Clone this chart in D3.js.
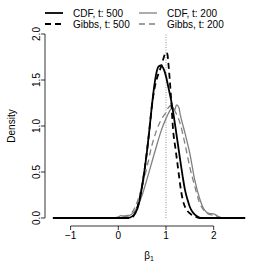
<!DOCTYPE html>
<html>
<head>
<meta charset="utf-8">
<script src="https://cdn.jsdelivr.net/npm/d3@7"></script>
<style>
  body { margin: 0; background: #fff; }
  text { font-family: "Liberation Sans", Arial, sans-serif; }
</style>
</head>
<body>
<div id="vis"></div>
<script>
// density estimates: [beta1, density]
var cdf500 = [[-1.37, 0], [0.2, 0], [0.3, 0.02], [0.4, 0.1], [0.45, 0.2], [0.5, 0.35], [0.55, 0.52],
  [0.6, 0.72], [0.65, 0.95], [0.7, 1.2], [0.75, 1.42], [0.8, 1.58], [0.85, 1.65], [0.9, 1.66],
  [0.95, 1.62], [1.0, 1.54], [1.05, 1.42], [1.1, 1.3], [1.15, 1.15], [1.2, 0.98], [1.25, 0.8],
  [1.3, 0.62], [1.35, 0.45], [1.4, 0.3], [1.45, 0.2], [1.5, 0.12], [1.55, 0.07], [1.6, 0.04],
  [1.65, 0.02], [1.7, 0.005], [1.75, 0], [2.66, 0]];
var gibbs500 = [[-1.37, 0], [0.2, 0], [0.3, 0.01], [0.35, 0.05], [0.4, 0.12], [0.45, 0.22], [0.5, 0.35],
  [0.55, 0.52], [0.6, 0.72], [0.65, 0.95], [0.7, 1.2], [0.75, 1.38], [0.8, 1.5], [0.85, 1.58],
  [0.9, 1.65], [0.95, 1.74], [1.0, 1.8], [1.03, 1.78], [1.05, 1.68], [1.1, 1.35], [1.15, 0.95],
  [1.2, 0.75], [1.25, 0.55], [1.3, 0.35], [1.35, 0.2], [1.4, 0.12], [1.5, 0.05], [1.6, 0.02],
  [1.7, 0], [2.66, 0]];
var cdf200 = [[-1.37, 0], [-0.1, 0], [0.0, 0.01], [0.05, 0.025], [0.1, 0.02], [0.15, 0.015], [0.2, 0.02],
  [0.3, 0.05], [0.4, 0.12], [0.5, 0.25], [0.6, 0.42], [0.7, 0.6], [0.8, 0.78], [0.9, 0.95],
  [1.0, 1.08], [1.1, 1.18], [1.15, 1.2], [1.18, 1.17], [1.22, 1.23], [1.27, 1.2], [1.3, 1.12],
  [1.4, 0.92], [1.5, 0.7], [1.6, 0.42], [1.7, 0.22], [1.8, 0.09], [1.9, 0.05], [2.0, 0.045],
  [2.1, 0.015], [2.2, 0], [2.66, 0]];
var gibbs200 = [[-1.37, 0], [-0.1, 0], [0.0, 0.01], [0.1, 0.02], [0.2, 0.03], [0.3, 0.07], [0.4, 0.18],
  [0.5, 0.35], [0.6, 0.55], [0.7, 0.78], [0.8, 0.95], [0.9, 1.07], [1.0, 1.15], [1.05, 1.2],
  [1.1, 1.22], [1.2, 1.15], [1.3, 1.02], [1.4, 0.8], [1.5, 0.55], [1.6, 0.35], [1.7, 0.17],
  [1.8, 0.08], [1.9, 0.04], [2.0, 0.03], [2.1, 0.01], [2.2, 0], [2.66, 0]];

var trueValue = 1;
var xTicks = [-1, 0, 1, 2];
var yTicks = [0, 0.5, 1, 1.5, 2];
var yTickLabels = ["0.0", "0.5", "1.0", "1.5", "2.0"];

var series = [
  {label: "CDF, t: 500", data: cdf500, color: "#000", width: 1.8, dash: null},
  {label: "Gibbs, t: 500", data: gibbs500, color: "#000", width: 1.8, dash: "6,4"},
  {label: "CDF, t: 200", data: cdf200, color: "#808080", width: 1.3, dash: null},
  {label: "Gibbs, t: 200", data: gibbs200, color: "#808080", width: 1.3, dash: "6,4"}
];

var width = 266, height = 266;
var x = d3.scaleLinear().domain([-1, 2]).range([70.6, 213.7]);
var y = d3.scaleLinear().domain([0, 2]).range([218, 34]);

var svg = d3.select('#vis').append('svg')
  .attr('width', width)
  .attr('height', height);

// true value
svg.append('line')
  .attr('x1', x(trueValue)).attr('x2', x(trueValue))
  .attr('y1', y(0)).attr('y2', y(2))
  .attr('stroke', '#777')
  .attr('stroke-width', 0.8)
  .attr('stroke-dasharray', '1,1.5');

var line = d3.line()
  .x(function (d) { return x(d[0]); })
  .y(function (d) { return y(d[1]); })
  .curve(d3.curveMonotoneX);

// draw gray first so black sits on top
[2, 3, 0, 1].forEach(function (i) {
  var s = series[i];
  svg.append('path')
    .attr('d', line(s.data))
    .attr('fill', 'none')
    .attr('stroke', s.color)
    .attr('stroke-width', s.width)
    .attr('stroke-dasharray', s.dash)
    .attr('stroke-linejoin', 'round');
});

// x axis, R style
var xAxisY = 226;
svg.append('line')
  .attr('x1', x(-1)).attr('x2', x(2))
  .attr('y1', xAxisY).attr('y2', xAxisY)
  .attr('stroke', '#000').attr('stroke-width', 0.8);
xTicks.forEach(function (t) {
  svg.append('line')
    .attr('x1', x(t)).attr('x2', x(t))
    .attr('y1', xAxisY).attr('y2', xAxisY + 4)
    .attr('stroke', '#000').attr('stroke-width', 0.8);
  svg.append('text')
    .attr('x', x(t)).attr('y', 239)
    .attr('text-anchor', 'middle')
    .attr('font-size', 10)
    .text(t < 0 ? '\u22121' : t);
});

// y axis
var yAxisX = 45;
svg.append('line')
  .attr('x1', yAxisX).attr('x2', yAxisX)
  .attr('y1', y(0)).attr('y2', y(2))
  .attr('stroke', '#000').attr('stroke-width', 0.8);
yTicks.forEach(function (t, i) {
  svg.append('line')
    .attr('x1', yAxisX - 4).attr('x2', yAxisX)
    .attr('y1', y(t)).attr('y2', y(t))
    .attr('stroke', '#000').attr('stroke-width', 0.8);
  svg.append('text')
    .attr('transform', 'translate(39.5,' + y(t) + ') rotate(-90)')
    .attr('text-anchor', 'middle')
    .attr('font-size', 10)
    .text(yTickLabels[i]);
});

svg.append('text')
  .attr('transform', 'translate(15,126) rotate(-90)')
  .attr('text-anchor', 'middle')
  .attr('font-size', 10)
  .text('Density');

var xl = svg.append('text')
  .attr('x', 149).attr('y', 259)
  .attr('text-anchor', 'middle')
  .attr('font-size', 10);
xl.append('tspan').text('\u03b2');
xl.append('tspan').attr('font-size', 7).attr('dy', 2).text('1');

// legend, two columns
var legendPos = [[45, 13], [45, 24], [139, 13], [139, 24]];
series.forEach(function (s, i) {
  var p = legendPos[i];
  svg.append('line')
    .attr('x1', p[0]).attr('x2', p[0] + 18)
    .attr('y1', p[1]).attr('y2', p[1])
    .attr('stroke', s.color)
    .attr('stroke-width', s.width)
    .attr('stroke-dasharray', s.dash);
  svg.append('text')
    .attr('x', p[0] + 28).attr('y', p[1] + 3.5)
    .attr('font-size', 10)
    .text(s.label);
});
</script>
</body>
</html>
